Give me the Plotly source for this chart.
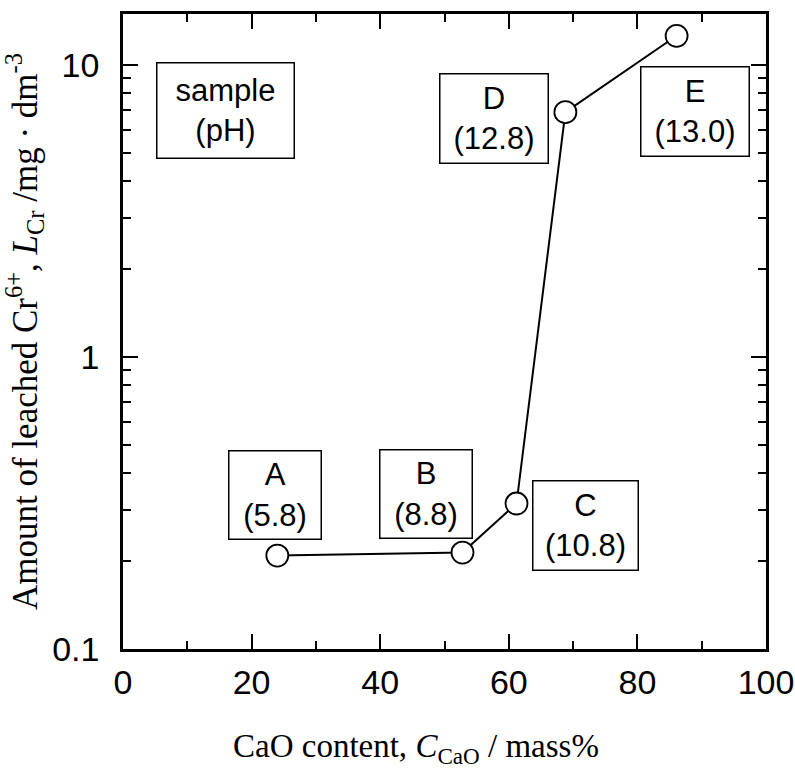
import plotly.graph_objects as go
import math

# Data
samples = ["A", "B", "C", "D", "E"]
ph_values = ["5.8", "8.8", "10.8", "12.8", "13.0"]
cao_content = [24.0, 52.8, 61.2, 68.8, 86.1]
leached_cr = [0.209, 0.214, 0.315, 6.9, 12.6]

# label box centres (data coords: x, y) and box sizes (px)
box_x = [23.6, 47.1, 72.0, 57.7, 89.0]
box_y = [0.336, 0.340, 0.265, 6.55, 6.92]
box_w = [91, 91, 104, 107, 107]
box_h = [87, 87, 88, 88, 88]

fig = go.Figure()
fig.add_trace(go.Scatter(
    x=cao_content, y=leached_cr, mode="lines+markers",
    line=dict(color="black", width=2),
    marker=dict(symbol="circle", size=22, color="white", line=dict(color="black", width=1.8)),
    showlegend=False, hoverinfo="x+y",
))

afont = dict(family="Liberation Sans", size=31, color="black")
for s, ph, bx, by, bw, bh in zip(samples, ph_values, box_x, box_y, box_w, box_h):
    fig.add_annotation(
        x=bx, y=math.log10(by), xref="x", yref="y",
        text=f"{s}<br>({ph})", showarrow=False, font=afont,
        bordercolor="black", borderwidth=1.5, borderpad=0,
        width=bw, height=bh, align="center",
    )
fig.add_annotation(
    x=16.0, y=0.843, xref="x", yref="y",
    text="sample<br>(pH)", showarrow=False, font=afont,
    bordercolor="black", borderwidth=1.5, borderpad=0,
    width=136, height=94, align="center",
)

# x-axis title (placed slightly left of centre, as in the reference)
fig.add_annotation(
    x=0.456, y=-0.156, xref="paper", yref="paper",
    text="CaO content, <i>C</i><sub>CaO</sub> / mass%", showarrow=False,
    font=dict(family="Liberation Serif", size=33, color="black"),
    xanchor="center", yanchor="middle",
)

tickfont = dict(family="Liberation Sans", size=34, color="black")

fig.update_xaxes(
    range=[0, 100], dtick=20, tick0=0,
    ticks="inside", ticklen=15, tickwidth=2, tickcolor="black",
    minor=dict(ticks="inside", ticklen=8, tickwidth=2, dtick=10, tickcolor="black"),
    showline=True, linewidth=2.5, linecolor="black", mirror="ticks",
    showgrid=False, zeroline=False, tickfont=tickfont, ticklabelstandoff=1,
    automargin=False,
)
fig.update_yaxes(
    type="log", range=[-1, 1.175],
    tickvals=[0.1, 1, 10], ticktext=["0.1", "1", "10"],
    ticks="inside", ticklen=15, tickwidth=2, tickcolor="black",
    minor=dict(ticks="inside", ticklen=8, tickwidth=2, dtick="D1", tickcolor="black"),
    showline=True, linewidth=2.5, linecolor="black", mirror="ticks",
    showgrid=False, zeroline=False, tickfont=tickfont, ticklabelstandoff=14,
    automargin=False,
    title=dict(text="Amount of leached Cr<sup>6+</sup>, <i>L</i><sub>Cr</sub> /mg · dm<sup>-3</sup>",
               font=dict(family="Liberation Serif", size=35, color="black"), standoff=10),
)

fig.update_layout(
    width=795, height=773,
    margin=dict(l=123, r=29, t=14, b=124),
    plot_bgcolor="white", paper_bgcolor="white",
)

fig.write_html("out.html")
